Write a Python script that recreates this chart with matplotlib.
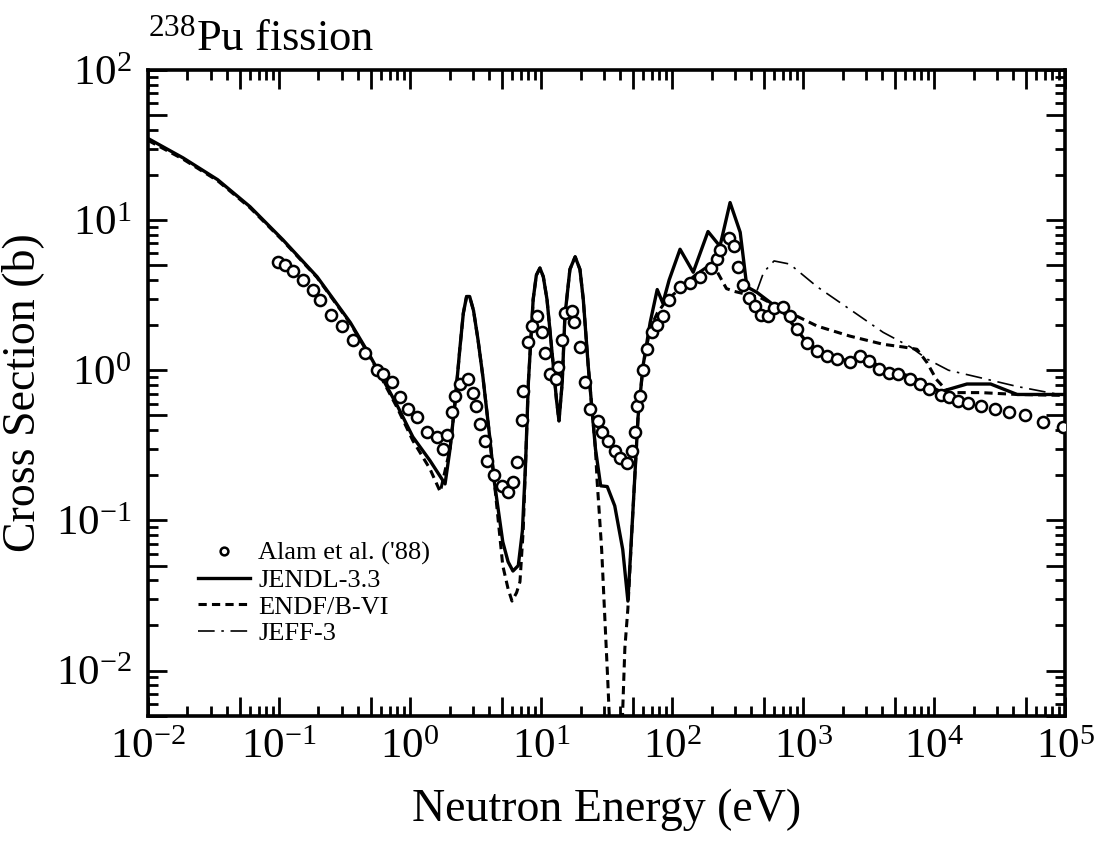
import numpy as np
import matplotlib
matplotlib.use("Agg")
from matplotlib import pyplot as plt
from matplotlib.ticker import FuncFormatter, NullFormatter

plt.rcParams['font.family'] = ['Liberation Serif', 'DejaVu Serif']
plt.rcParams['mathtext.fontset'] = 'custom'
plt.rcParams['mathtext.rm'] = 'Liberation Serif'

# JENDL-3.3 (solid)
jendl_e = [0.01, 0.0185, 0.034, 0.06, 0.107, 0.195, 0.35, 0.47, 0.6, 0.8, 1.05, 1.42, 1.85,
           2.02, 2.2, 2.4, 2.55, 2.7, 2.85, 3.05, 3.3, 3.6, 4.0, 4.4, 5.1, 5.6, 6.1, 6.7,
           7.2, 7.6, 8.0, 8.7, 9.2, 9.8, 10.4, 11.1, 12.4, 13.1, 13.7, 14.5, 15.2, 16.6,
           18.2, 19.8, 21.0, 22.9, 26.0, 28.5, 32.0, 36.5, 42.0, 46.0, 50.0, 55.0, 60.0,
           68.0, 77.0, 85.0, 95.0, 115.0, 145.0, 188.0, 232.0, 277.0, 331.0, 372.0, 445.0,
           707.0, 1070.0, 1520.0, 2270.0, 2720.0, 4080.0, 6600.0, 11200.0, 17800.0,
           27000.0, 43000.0, 100000.0]
jendl_xs = [35.0, 26.0, 18.6, 12.3, 7.4, 4.2, 2.08, 1.35, 0.92, 0.58, 0.36, 0.25, 0.175,
            0.30, 0.6, 1.4, 2.4, 3.1, 3.1, 2.5, 1.6, 0.9, 0.4, 0.18, 0.072, 0.053, 0.046, 0.050,
            0.085, 0.23, 0.83, 2.96, 4.3, 4.8, 4.2, 2.96, 1.07, 0.64, 0.46, 0.83, 2.3, 4.7,
            5.7, 4.7, 2.96, 1.07, 0.30, 0.17, 0.168, 0.125, 0.064, 0.029, 0.107, 0.49, 1.07,
            2.08, 3.45, 2.8, 4.0, 6.4, 4.5, 8.4, 6.7, 13.1, 8.3, 3.6, 3.3,
            2.43, 1.53, 1.24, 1.15, 1.28, 1.02, 0.91, 0.72, 0.81,
            0.81, 0.69, 0.69]

# ENDF/B-VI (dashed)
endf_e = [0.01, 0.0185, 0.034, 0.06, 0.107, 0.195, 0.35, 0.47, 0.6, 0.8, 1.05, 1.42, 1.7,
          2.02, 2.2, 2.4, 2.55, 2.7, 2.85, 3.05, 3.3, 3.6, 4.0, 4.4, 5.1, 5.6, 6.0, 6.5,
          6.9, 7.3, 7.6, 8.0, 8.7, 9.2, 9.8, 10.4, 11.1, 12.4, 13.1, 13.7, 14.5, 15.2, 16.6,
          18.2, 19.8, 21.0, 22.9, 26.0, 26.8, 27.5, 29.0, 30.6, 32.3, 34.0, 41.0, 43.6,
          46.0, 50.0, 55.0, 60.0, 68.0, 77.0, 90.0, 115.0, 150.0, 205.0, 225.0, 260.0,
          300.0, 470.0, 700.0, 1280.0, 2270.0, 4080.0, 5800.0, 7400.0, 8800.0, 10400.0,
          12900.0, 22800.0, 43000.0, 100000.0]
endf_xs = [34.0, 25.5, 18.3, 12.1, 7.3, 4.15, 2.05, 1.33, 0.9, 0.56, 0.34, 0.22, 0.155,
           0.30, 0.6, 1.4, 2.4, 3.1, 3.1, 2.5, 1.6, 0.9, 0.4, 0.18, 0.05, 0.035, 0.029, 0.033,
           0.039, 0.085, 0.23, 0.83, 2.96, 4.3, 4.8, 4.2, 2.96, 1.07, 0.64, 0.46, 0.83, 2.3, 4.7,
           5.7, 4.7, 2.96, 1.07, 0.30, 0.18, 0.13, 0.064, 0.0233, 0.0085, 0.003, 0.003, 0.0141,
           0.026, 0.107, 0.49, 1.07, 1.9, 2.4, 2.9, 3.5, 4.3, 5.2, 4.4, 3.5,
           3.35, 3.05, 2.55, 1.97, 1.69, 1.49, 1.43, 1.38, 1.13, 0.87,
           0.71, 0.71, 0.69, 0.68]

# JEFF-3 (dash-dot, only where it departs from the others)
jeff_e = [445.0, 500.0, 600.0, 790.0, 1280.0, 2270.0, 4080.0, 6600.0, 8800.0, 12900.0,
          22800.0, 43000.0, 75000.0, 100000.0]
jeff_xs = [3.4, 4.5, 5.35, 5.1, 3.6, 2.55, 1.79, 1.43, 1.19, 1.0,
           0.89, 0.78, 0.71, 0.68]

# Alam et al. ('88) measurement
alam_e = [0.098, 0.111, 0.128, 0.152, 0.182, 0.205, 0.25, 0.30, 0.366, 0.45, 0.56, 0.62,
          0.73, 0.84, 0.96, 1.13, 1.34, 1.6, 1.78, 1.9, 2.1, 2.2, 2.4, 2.77, 3.0, 3.2, 3.4,
          3.7, 3.9, 4.4, 5.0, 5.6, 6.1, 6.5, 7.2, 7.3, 8.0, 8.5, 9.3, 10.2, 10.8, 11.7, 13.1,
          13.4, 14.5, 15.2, 17.2, 17.7, 19.8, 21.7, 23.7, 27.3, 29.0, 32.3, 36.5, 40.0, 45.0,
          49.0, 52.0, 54.0, 56.5, 60.0, 64.0, 70.0, 77.0, 85.0, 95.0, 115.0, 138.0, 164.0,
          198.0, 220.0, 232.0, 270.0, 295.0, 320.0, 350.0, 388.0, 427.0, 480.0, 535.0, 600.0,
          700.0, 790.0, 895.0, 1070.0, 1280.0, 1520.0, 1800.0, 2270.0, 2720.0, 3200.0, 3800.0,
          4500.0, 5300.0, 6600.0, 7800.0, 9200.0, 11200.0, 12900.0, 15300.0, 18000.0,
          22800.0, 29000.0, 37000.0, 49000.0, 68000.0, 97000.0]
alam_xs = [5.3, 5.0, 4.6, 4.0, 3.45, 2.96, 2.35, 1.96, 1.6, 1.3, 1.0, 0.94,
           0.83, 0.66, 0.55, 0.49, 0.39, 0.36, 0.30, 0.37, 0.53, 0.67, 0.81, 0.87, 0.71, 0.58, 0.44,
           0.34, 0.25, 0.20, 0.17, 0.155, 0.18, 0.245, 0.47, 0.73, 1.55, 1.97, 2.3, 1.8, 1.3, 0.94, 0.87,
           1.05, 1.6, 2.4, 2.5, 2.1, 1.42, 0.84, 0.55, 0.46, 0.39, 0.34, 0.29, 0.26, 0.24,
           0.29, 0.39, 0.58, 0.67, 1.0, 1.38, 1.8, 2.0, 2.3, 2.96, 3.6, 3.8, 4.2,
           4.8, 5.5, 6.3, 7.6, 6.7, 4.9, 3.7, 3.05, 2.66, 2.35, 2.3, 2.6,
           2.62, 2.3, 1.87, 1.53, 1.34, 1.24, 1.19, 1.13, 1.24, 1.15, 1.02,
           0.96, 0.94, 0.87, 0.81, 0.75, 0.68, 0.66, 0.62, 0.61,
           0.58, 0.55, 0.53, 0.50, 0.45, 0.42]

x_decades = range(-2, 6)
y_decades = range(-3, 3)

fig = plt.figure(figsize=(11.13, 8.49), dpi=100)
ax = fig.add_axes([0.133, 0.157, 0.824, 0.7605])

ax.plot(endf_e, endf_xs, color='black', lw=2.2, dashes=(2.7, 1.7), label='ENDF/B-VI')
ax.plot(jeff_e, jeff_xs, color='black', lw=1.2, dashes=(10, 4, 1.5, 4), label='JEFF-3')
ax.plot(jendl_e, jendl_xs, color='black', lw=2.4, label='JENDL-3.3')
ax.plot(alam_e, alam_xs, 'o', ms=8, mfc='white', mec='black', mew=1.8,
        label="Alam et al. ('88)", zorder=5)

ax.set_xscale('log')
ax.set_yscale('log')
xlim = (1e-2, 1e5)
ylim = (5e-3, 1e2)


def tick_sets(decades, lim):
    major, minor = [], []
    for d in decades:
        for s in range(1, 10):
            v = s * 10.0 ** d
            if lim[0] * 0.999 <= v <= lim[1] * 1.001:
                (major if s in (1, 5) else minor).append(v)
    return major, minor


xmaj, xmin = tick_sets(x_decades, xlim)
ymaj, ymin = tick_sets(y_decades, ylim)
ax.set_xticks(xmaj)
ax.set_xticks(xmin, minor=True)
ax.set_yticks(ymaj)
ax.set_yticks(ymin, minor=True)
ax.set_xlim(*xlim)
ax.set_ylim(*ylim)


def decade_fmt(v, pos):
    e = int(round(np.log10(v)))
    if abs(v - 10.0 ** e) > 1e-6 * v:
        return ''
    return r'$\mathregular{10^{%d}}$' % e


for axis in (ax.xaxis, ax.yaxis):
    axis.set_major_formatter(FuncFormatter(decade_fmt))
    axis.set_minor_formatter(NullFormatter())

ax.tick_params(which='both', direction='in', top=True, right=True, width=2)
ax.tick_params(which='major', length=14)
ax.tick_params(which='minor', length=7)
ax.tick_params(axis='x', labelsize=31, pad=9)
ax.tick_params(axis='y', labelsize=31, pad=12)
for sp in ax.spines.values():
    sp.set_linewidth(2.6)

ax.set_xlabel('Neutron Energy (eV)', fontsize=33, labelpad=16)
ax.set_ylabel('Cross Section (b)', fontsize=33, labelpad=8)

fig.text(0.133, 0.941, r"$\mathregular{^{238}}$Pu fission", fontsize=32,
         ha='left', va='baseline')

h, l = ax.get_legend_handles_labels()
order = [3, 2, 0, 1]
ax.legend([h[i] for i in order], [l[i] for i in order], loc='upper left',
          bbox_to_anchor=(0.054, 0.27), frameon=False, fontsize=19,
          borderpad=0, borderaxespad=0, handlelength=2.0, handletextpad=0.3,
          labelspacing=0.12, markerscale=0.7)

plt.savefig('out.png', dpi=100)
